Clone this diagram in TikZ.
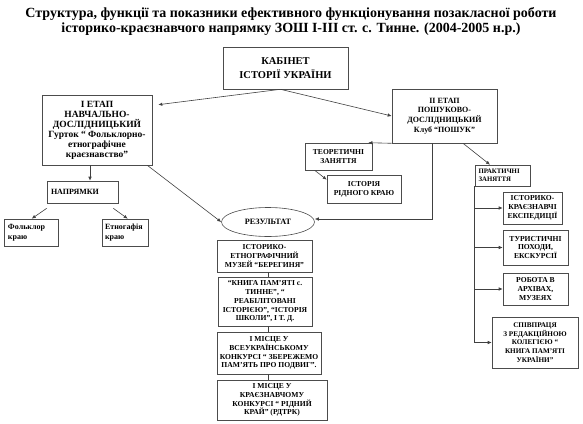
\documentclass[tikz,border=0pt]{standalone}
\usepackage{fontspec}
\setmainfont{Liberation Serif}
\usetikzlibrary{positioning,arrows.meta,shapes.geometric}

\begin{document}
\begin{tikzpicture}[
  x=1pt, y=-1pt,
  font=\bfseries\fontsize{7.6}{8.8}\selectfont,
  box/.style={rectangle, draw=black!70, line width=0.6pt, inner sep=1pt, align=center, fill=white},
  sz/.style 2 args={minimum width=#1pt, minimum height=#2pt},
  lbox/.style={box, align=left},
  res/.style={ellipse, draw=black!70, line width=0.6pt, inner sep=0pt, fill=white},
  arr/.style={-{Latex[length=4pt,width=3.5pt]}, draw=black!75, line width=0.6pt},
  ln/.style={draw=black!75, line width=0.6pt}
]
\useasboundingbox (0,0) rectangle (583,423);

\node[font=\bfseries\fontsize{14}{15}\selectfont, align=center] (title) at (291,21)
  {Структура, функції та показники ефективного функціонування позакласної роботи\\
   історико-краєзнавчого напрямку ЗОШ І-ІІІ ст. с. Тинне. (2004-2005 н.р.)};

\node[box, sz={125}{42}, font=\bfseries\fontsize{10.5}{13.5}\selectfont] (kab) at (285.5,68) {КАБІНЕТ\\ ІСТОРІЇ УКРАЇНИ};

% I етап
\node[box, sz={110}{70}, font=\bfseries\fontsize{9.5}{10}\selectfont] (et1) at (97,130)
  {І ЕТАП\\ НАВЧАЛЬНО-\\ ДОСЛІДНИЦЬКИЙ\\ Гурток “ Фольклорно-\\ етнографічне\\ краєзнавство”};
\node[lbox, sz={71}{22}, text width=63pt, font=\bfseries\fontsize{8}{9}\selectfont] (napr) at (82.5,192) {НАПРЯМКИ};
\node[lbox, sz={54}{27}, text width=46pt, font=\bfseries\fontsize{8}{10}\selectfont] (folk) at (31,232.5) {Фольклор\\ краю};
\node[lbox, sz={46}{27}, text width=40pt, font=\bfseries\fontsize{8}{10}\selectfont] (etno) at (125,232.5) {Етногафія\\ краю};

% II етап
\node[box, sz={105}{54}, font=\bfseries\fontsize{8}{9.8}\selectfont] (et2) at (444.5,116)
  {ІІ ЕТАП\\ ПОШУКОВО-\\ ДОСЛІДНИЦЬКИЙ\\ Клуб “ПОШУК”};
\node[box, sz={67}{27}] (teor) at (338.5,156.5) {ТЕОРЕТИЧНІ\\ ЗАНЯТТЯ};
\node[box, sz={74}{28}] (ist) at (364,189) {ІСТОРІЯ\\ РІДНОГО КРАЮ};
\node[lbox, sz={55}{21}, text width=48pt, font=\bfseries\fontsize{6.8}{8}\selectfont] (prak) at (502.5,175.5) {ПРАКТИЧНІ\\ ЗАНЯТТЯ};
\node[box, sz={59}{32}] (eksp) at (532.5,208) {ІСТОРИКО-\\ КРАЄЗНАВЧІ\\ ЕКСПЕДИЦІЇ};
\node[box, sz={65}{35}] (tur) at (535.5,247.5) {ТУРИСТИЧНІ\\ ПОХОДИ,\\ ЕКСКУРСІЇ};
\node[box, sz={65}{32}] (rob) at (535.5,289) {РОБОТА В\\ АРХІВАХ,\\ МУЗЕЯХ};
\node[box, sz={86}{51}, font=\bfseries\fontsize{7.2}{8.8}\selectfont] (spiv) at (535,342.5) {СПІВПРАЦЯ\\ З РЕДАКЦІЙНОЮ\\ КОЛЕГІЄЮ “\\ КНИГА ПАМ’ЯТІ\\ УКРАЇНИ”};

% результат
\node[res, minimum width=93pt, minimum height=29pt, font=\bfseries\fontsize{8.2}{9}\selectfont] (rez) at (268,222) {РЕЗУЛЬТАТ};
\node[box, sz={95}{32}] (muz) at (264.5,256) {ІСТОРИКО-\\ ЕТНОГРАФІЧНИЙ\\ МУЗЕЙ “БЕРЕГИНЯ”};
\node[box, sz={94}{49}] (knyga) at (265,301.5) {“КНИГА ПАМ’ЯТІ с.\\ ТИННЕ”, “\\ РЕАБІЛІТОВАНІ\\ ІСТОРІЄЮ”, “ІСТОРІЯ\\ ШКОЛИ”, І Т. Д.};
\node[box, sz={104}{42}] (misc1) at (269,353) {І МІСЦЕ У\\ ВСЕУКРАЇНСЬКОМУ\\ КОНКУРСІ “ ЗБЕРЕЖЕМО\\ ПАМ’ЯТЬ ПРО ПОДВИГ”.};
\node[box, sz={110}{40}] (misc2) at (272,400) {І МІСЦЕ У\\ КРАЄЗНАВЧОМУ\\ КОНКУРСІ “ РІДНИЙ\\ КРАЙ” (РДТРК)};

% connectors
\draw[arr] ([xshift=-5pt]kab.south) -- ([xshift=6pt,yshift=-10pt]et1.north east);
\draw[arr] ([xshift=-5pt]kab.south) -- (et2.west);
\draw[arr] ([xshift=-7pt]et1.south) -- ([xshift=-7pt]et1.south |- napr.north);
\draw[arr] ([yshift=-5pt]napr.south west) -- ([xshift=28pt]folk.north west);
\draw[arr] ([xshift=-5pt,yshift=-5pt]napr.south east) -- ([xshift=26pt]etno.north west);
\draw[arr] ([xshift=-5pt]et1.south east) -- (rez.west);
\draw[arr] (et2.south west) -- ([xshift=-4pt]teor.north east);
\draw[arr] ([xshift=10pt]teor.south west) -- ([yshift=-5pt]ist.north west);
\draw[arr] ([xshift=-12.5pt]et2.south) |- ([yshift=3pt]rez.east);
\draw[arr] ([xshift=18.5pt]et2.south) -- ([xshift=-12.5pt]prak.north);
\draw[arr] (prak.south west) |- (eksp.west);
\draw[arr] (prak.south west) |- (tur.west);
\draw[arr] (prak.south west) |- (rob.west);
\draw[arr] (prak.south west) |- (spiv.west);
\draw[ln] ([xshift=3.5pt]muz.south) -- ([xshift=3.5pt]muz.south |- knyga.north);
\draw[ln] ([xshift=3pt]knyga.south) -- ([xshift=3pt]knyga.south |- misc1.north);
\draw[ln] ([xshift=-1pt]misc1.south) -- ([xshift=-1pt]misc1.south |- misc2.north);
\end{tikzpicture}
\end{document}
